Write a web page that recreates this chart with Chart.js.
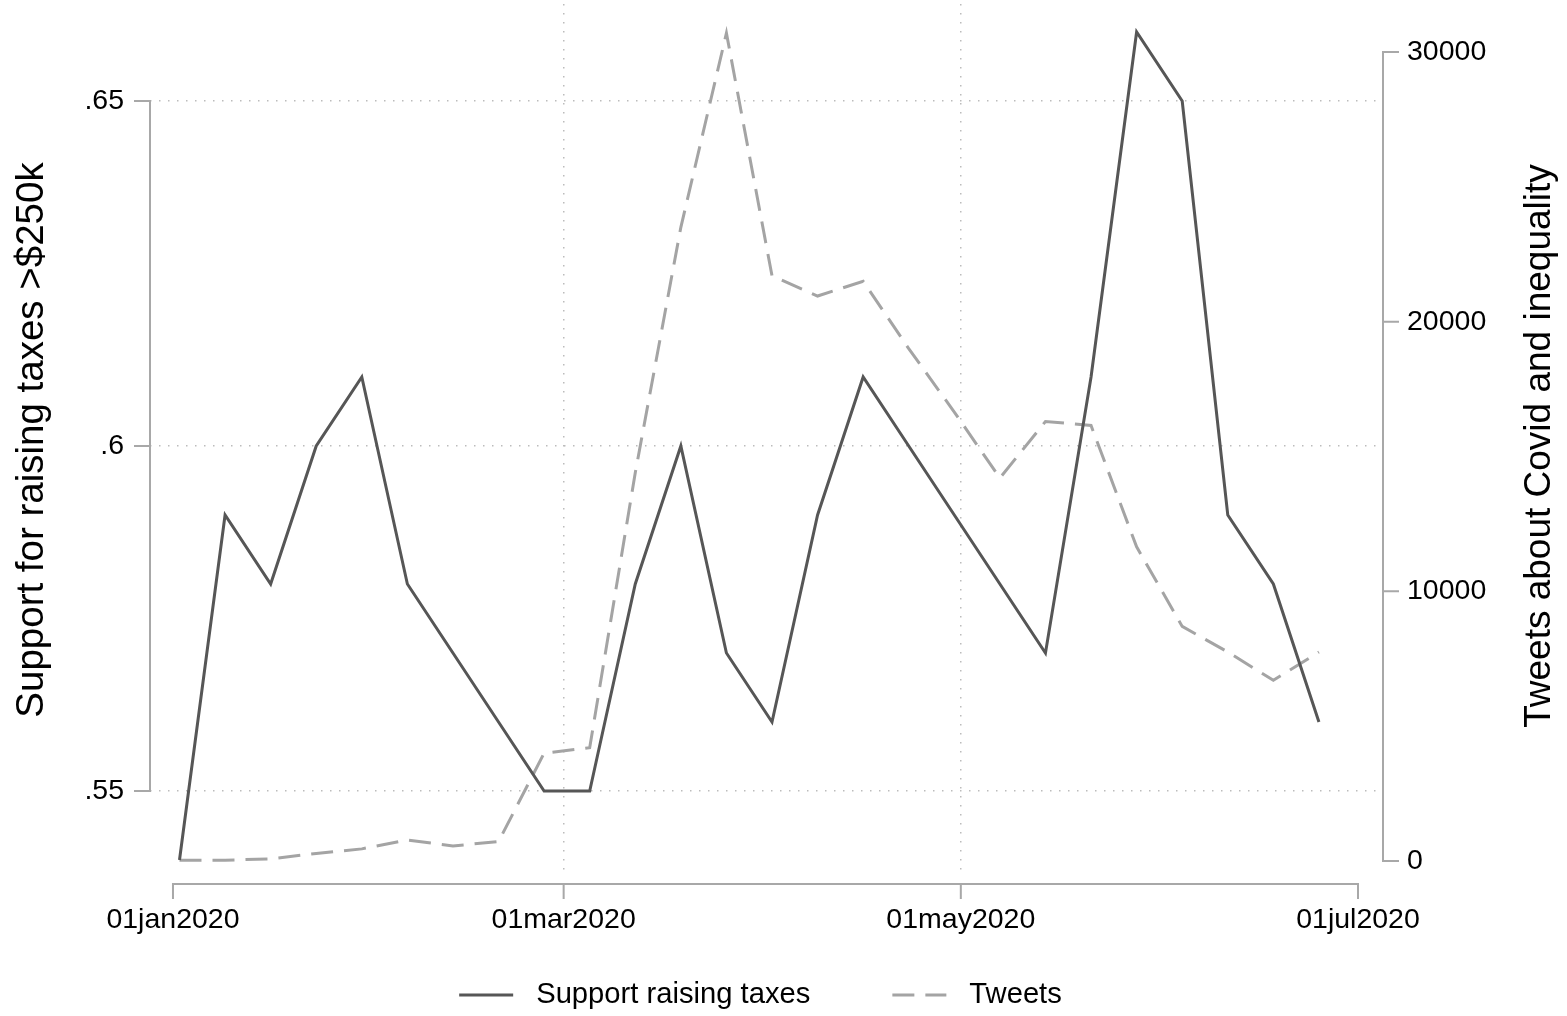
<!DOCTYPE html>
<html>
<head>
<meta charset="utf-8">
<script src="https://cdn.jsdelivr.net/npm/chart.js@4.4.1/dist/chart.umd.min.js"></script>
<style>
html,body{margin:0;padding:0;background:#fff;overflow:hidden}
canvas{display:block}
</style>
</head>
<body>
<canvas id="c" width="1567" height="1016"></canvas>
<script>
// ---------------- data ----------------
const weekDates = [
  '2020-01-02','2020-01-09','2020-01-16','2020-01-23','2020-01-30',
  '2020-02-06','2020-02-13','2020-02-20','2020-02-27',
  '2020-03-05','2020-03-12','2020-03-19','2020-03-26',
  '2020-04-02','2020-04-09','2020-04-16','2020-04-23','2020-04-30',
  '2020-05-07','2020-05-14','2020-05-21','2020-05-28',
  '2020-06-04','2020-06-11','2020-06-18','2020-06-25'
];
const supportValues = [
  0.54, 0.59, 0.58, 0.60, 0.61,
  0.58, 0.57, 0.56, 0.55,
  0.55, 0.58, 0.60, 0.57,
  0.56, 0.59, 0.61, 0.60, 0.59,
  0.58, 0.57, 0.61, 0.66,
  0.65, 0.59, 0.58, 0.56
];
const tweetValues = [
  30, 30, 80, 280, 450,
  780, 560, 720, 4000,
  4200, 14400, 23500, 30700,
  21700, 20950, 21500, 19000, 16650,
  14200, 16300, 16150, 11650,
  8700, 7750, 6700, 7750
];
const seriesNames = ['Support raising taxes', 'Tweets'];
const xTickDates = ['2020-01-01', '2020-03-01', '2020-05-01', '2020-07-01'];
const xTickLabels = ['01jan2020', '01mar2020', '01may2020', '01jul2020'];
const leftTickValues = [0.55, 0.6, 0.65];
const leftTickLabels = ['.55', '.6', '.65'];
const rightTickValues = [0, 10000, 20000, 30000];
const rightTickLabels = ['0', '10000', '20000', '30000'];
const leftTitle = 'Support for raising taxes >$250k';
const rightTitle = 'Tweets about Covid and inequality';

// ---------------- helpers ----------------
const DAY0 = Date.UTC(2020, 0, 1);
const toDay = s => { const [y, m, d] = s.split('-').map(Number); return (Date.UTC(y, m - 1, d) - DAY0) / 86400000; };
const weekDays = weekDates.map(toDay);
const xTickDays = xTickDates.map(toDay);

const FONT = '"Liberation Sans", Arial, Helvetica, sans-serif';
const TICK_SIZE = 28.5;
const LEGEND_SIZE = 29.2;
const LEFT_TITLE_SIZE = 38.5;
const RIGHT_TITLE_SIZE = 37;
const SOLID = '#565656';
const DASHED = '#a4a4a4';
const AXIS = '#a8a8a8';
const GRID = '#bcbcbc';

const supportData = weekDays.map((d, i) => ({x: d, y: supportValues[i]}));
const tweetData = weekDays.map((d, i) => ({x: d, y: tweetValues[i]}));

function labelFor(values, labels, v) {
  const i = values.findIndex(t => Math.abs(t - v) < 1e-9);
  return i >= 0 ? labels[i] : '';
}
function clearPad(s) {
  s.paddingTop = 0; s.paddingBottom = 0; s.paddingLeft = 0; s.paddingRight = 0;
}

// ---------------- plugins ----------------
const stataDecor = {
  id: 'stataDecor',
  afterDraw(chart) {
    const ctx = chart.ctx;
    const ca = chart.chartArea;
    const sx = chart.scales.x, sy = chart.scales.y, sy1 = chart.scales.y1;
    ctx.save();
    ctx.strokeStyle = AXIS;
    ctx.lineWidth = 2;
    ctx.lineCap = 'butt';
    // left axis
    const lx = ca.left;
    ctx.beginPath();
    ctx.moveTo(lx, sy.getPixelForValue(leftTickValues[0]));
    ctx.lineTo(lx, sy.getPixelForValue(leftTickValues[leftTickValues.length - 1]));
    leftTickValues.forEach(v => { const p = sy.getPixelForValue(v); ctx.moveTo(lx - 16, p); ctx.lineTo(lx + 1, p); });
    ctx.stroke();
    // right axis
    const rx = ca.right;
    ctx.beginPath();
    ctx.moveTo(rx, sy1.getPixelForValue(rightTickValues[0]));
    ctx.lineTo(rx, sy1.getPixelForValue(rightTickValues[rightTickValues.length - 1]));
    rightTickValues.forEach(v => { const p = sy1.getPixelForValue(v); ctx.moveTo(rx - 1, p); ctx.lineTo(rx + 16, p); });
    ctx.stroke();
    // x axis
    const by = ca.bottom + 8;
    ctx.beginPath();
    ctx.moveTo(sx.getPixelForValue(xTickDays[0]), by);
    ctx.lineTo(sx.getPixelForValue(xTickDays[xTickDays.length - 1]), by);
    xTickDays.forEach(v => { const p = sx.getPixelForValue(v); ctx.moveTo(p, by - 1); ctx.lineTo(p, by + 15); });
    ctx.stroke();

    // right title (reads bottom to top)
    ctx.fillStyle = '#000';
    ctx.font = RIGHT_TITLE_SIZE + 'px ' + FONT;
    ctx.textAlign = 'center';
    ctx.textBaseline = 'middle';
    ctx.save();
    ctx.translate(chart.width - 27, (ca.top + ca.bottom) / 2 + 6);
    ctx.rotate(-Math.PI / 2);
    ctx.fillText(rightTitle, 0, 0);
    ctx.restore();

    // legend
    ctx.font = LEGEND_SIZE + 'px ' + FONT;
    ctx.textAlign = 'left';
    const sample = 54, gapText = 23, gapItem = 82;
    const ds = chart.data.datasets;
    const widths = ds.map(d => ctx.measureText(d.label).width);
    let total = 0;
    ds.forEach((d, i) => { total += sample + gapText + widths[i]; if (i < ds.length - 1) total += gapItem; });
    let x = (ca.left + ca.right) / 2 - 6 - total / 2;
    const ly = 995;
    ds.forEach((d, i) => {
      ctx.save();
      ctx.strokeStyle = d.borderColor;
      ctx.lineWidth = d.borderWidth;
      ctx.setLineDash(d.borderDash || []);
      ctx.beginPath();
      ctx.moveTo(x, ly);
      ctx.lineTo(x + sample, ly);
      ctx.stroke();
      ctx.restore();
      ctx.fillStyle = '#000';
      ctx.textBaseline = 'middle';
      ctx.fillText(d.label, x + sample + gapText, ly);
      x += sample + gapText + widths[i] + gapItem;
    });
    ctx.restore();
  }
};

// ---------------- chart ----------------
new Chart(document.getElementById('c'), {
  type: 'line',
  data: {
    datasets: [
      {
        label: seriesNames[0],
        data: supportData,
        yAxisID: 'y',
        borderColor: SOLID,
        borderWidth: 3,
        pointRadius: 0,
        tension: 0,
        fill: false
      },
      {
        label: seriesNames[1],
        data: tweetData,
        yAxisID: 'y1',
        borderColor: DASHED,
        borderWidth: 3,
        borderDash: [22, 11],
        pointRadius: 0,
        tension: 0,
        fill: false
      }
    ]
  },
  options: {
    responsive: false,
    animation: false,
    events: [],
    layout: {padding: {top: 4, left: 0, right: 0, bottom: 0}, autoPadding: false},
    plugins: {
      legend: {display: false},
      tooltip: {enabled: false},
      title: {display: false}
    },
    scales: {
      x: {
        type: 'linear',
        min: -3.53,
        max: 185.84,
        afterBuildTicks: s => { s.ticks = xTickDays.map(v => ({value: v})); },
        afterFit: s => { s.height = 140; clearPad(s); },
        ticks: {
          autoSkip: false,
          maxRotation: 0,
          padding: 27,
          color: '#000',
          font: {family: FONT, size: TICK_SIZE},
          callback: v => labelFor(xTickDays, xTickLabels, v)
        },
        grid: {
          drawTicks: false,
          lineWidth: 1.5,
          color: c => (c.tick && (c.tick.value === xTickDays[0] || c.tick.value === xTickDays[xTickDays.length - 1])) ? 'rgba(0,0,0,0)' : GRID
        },
        border: {display: false, dash: [1.5, 7.5]}
      },
      y: {
        type: 'linear',
        position: 'left',
        min: 0.537681,
        max: 0.664058,
        afterBuildTicks: s => { s.ticks = leftTickValues.map(v => ({value: v})); },
        afterFit: s => { s.width = 150; clearPad(s); },
        ticks: {
          padding: 26,
          color: '#000',
          font: {family: FONT, size: TICK_SIZE},
          callback: v => labelFor(leftTickValues, leftTickLabels, v)
        },
        grid: {drawTicks: false, lineWidth: 1.5, color: GRID},
        border: {display: false, dash: [1.5, 7.5]},
        title: {
          display: true,
          text: leftTitle,
          color: '#000',
          font: {family: FONT, size: LEFT_TITLE_SIZE},
          padding: {top: 9, bottom: 0}
        }
      },
      y1: {
        type: 'linear',
        position: 'right',
        min: -556,
        max: 31780,
        afterBuildTicks: s => { s.ticks = rightTickValues.map(v => ({value: v})); },
        afterFit: s => { s.width = 184; clearPad(s); },
        ticks: {
          padding: 24,
          color: '#000',
          font: {family: FONT, size: TICK_SIZE},
          callback: v => labelFor(rightTickValues, rightTickLabels, v)
        },
        grid: {display: false, drawTicks: false},
        border: {display: false}
      }
    }
  },
  plugins: [stataDecor]
});
</script>
</body>
</html>
